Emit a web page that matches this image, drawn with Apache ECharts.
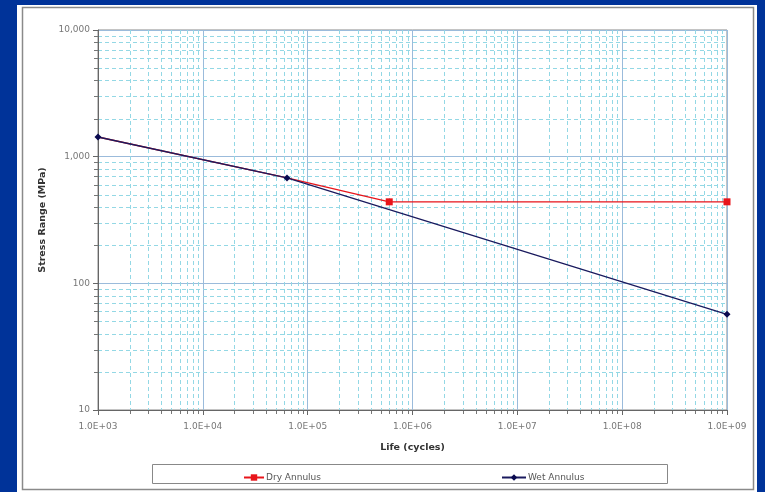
<!DOCTYPE html>
<html><head><meta charset="utf-8">
<script src="https://cdn.jsdelivr.net/npm/echarts@6/dist/echarts.min.js"></script>
<style>html,body{margin:0;padding:0;background:#003399;}#c{width:765px;height:492px;}</style>
</head><body><div id="c"></div>
<script>
// Data
const dryLife = [1000, 63500, 600000, 1e9];
const dryStress = [1430, 679, 440, 440];
const wetLife = [1000, 63500, 1e9];
const wetStress = [1430, 679, 57];
const xTickLabels = ['1.0E+03','1.0E+04','1.0E+05','1.0E+06','1.0E+07','1.0E+08','1.0E+09'];
const yTickLabels = {10:'10',100:'100',1000:'1,000',10000:'10,000'};

const xMin = 1e3, xMax = 1e9, yMin = 10, yMax = 1e4;

// minor gridline positions (2..9 within each decade)
const gridData = [];
for (let e = 3; e < 9; e++) for (let m = 2; m <= 9; m++) gridData.push([m * Math.pow(10, e), yMin, 0]);
for (let e = 1; e < 4; e++) for (let m = 2; m <= 9; m++) gridData.push([xMin, m * Math.pow(10, e), 1]);

const chart = echarts.init(document.getElementById('c'), null, {renderer: 'canvas'});
const font = '"DejaVu Sans", Verdana, sans-serif';

function gridRender(params, api) {
  const k = api.value(2);
  const dash = {stroke: '#93d8e5', lineWidth: 1, lineDash: [4, 3]};
  if (k === 0) {
    const pb = api.coord([api.value(0), yMin]);
    const pt = api.coord([api.value(0), yMax]);
    const x = Math.round(pb[0]) + 0.5;
    return {type: 'group', children: [
      {type: 'line', shape: {x1: x, y1: pt[1], x2: x, y2: pb[1]}, style: dash},
      {type: 'line', shape: {x1: x, y1: pb[1], x2: x, y2: pb[1] + 4}, style: {stroke: '#777', lineWidth: 1}}
    ]};
  } else {
    const pl = api.coord([xMin, api.value(1)]);
    const pr = api.coord([xMax, api.value(1)]);
    const y = Math.round(pl[1]) + 0.5;
    return {type: 'group', children: [
      {type: 'line', shape: {x1: pl[0], y1: y, x2: pr[0], y2: y}, style: dash},
      {type: 'line', shape: {x1: pl[0] - 4, y1: y, x2: pl[0], y2: y}, style: {stroke: '#777', lineWidth: 1}}
    ]};
  }
}

const option = {
  backgroundColor: '#003399',
  animation: false,
  graphic: [
    {type: 'rect', shape: {x: 17, y: 5, width: 740, height: 487}, style: {fill: '#ffffff'}, z: -10},
    {type: 'rect', shape: {x: 22.5, y: 7.5, width: 731, height: 482}, style: {fill: 'none', stroke: '#8a8a8a', lineWidth: 1.5}, z: -9},
    {type: 'rect', shape: {x: 152.5, y: 464.5, width: 515, height: 19}, style: {fill: '#fff', stroke: '#888', lineWidth: 1}, z: -8}
  ],
  grid: {left: 98, top: 30, right: 38, bottom: 82, show: true, borderColor: '#888', borderWidth: 1, backgroundColor: 'transparent'},
  xAxis: {
    type: 'log', logBase: 10, min: xMin, max: xMax, interval: 1,
    name: 'Life (cycles)', nameLocation: 'middle', nameGap: 33,
    nameTextStyle: {fontFamily: font, fontSize: 9.5, fontWeight: 'bold', color: '#333'},
    axisLine: {lineStyle: {color: '#666'}},
    axisTick: {show: true, length: 5, lineStyle: {color: '#666'}},
    axisLabel: {fontFamily: font, fontSize: 9, color: '#777', margin: 12,
      formatter: v => xTickLabels[Math.round(Math.log10(v)) - 3]},
    splitLine: {show: true, lineStyle: {color: '#9bbbdb', width: 1}}
  },
  yAxis: {
    type: 'log', logBase: 10, min: yMin, max: yMax, interval: 1,
    name: 'Stress Range (MPa)', nameLocation: 'middle', nameGap: 50, nameRotate: 90,
    nameTextStyle: {fontFamily: font, fontSize: 9.5, fontWeight: 'bold', color: '#333'},
    axisLine: {show: true, lineStyle: {color: '#666'}},
    axisTick: {show: true, length: 5, lineStyle: {color: '#666'}},
    axisLabel: {fontFamily: font, fontSize: 9, color: '#777', margin: 8,
      formatter: v => yTickLabels[Math.round(v)]},
    splitLine: {show: true, lineStyle: {color: '#9bbbdb', width: 1}}
  },
  legend: [
    {data: ['Dry Annulus'], left: 238, top: 468, itemWidth: 20, itemHeight: 8, itemGap: 4,
      textStyle: {fontFamily: font, fontSize: 9, color: '#555', padding: [0, 0, 0, -3]}},
    {data: ['Wet Annulus'], left: 496, top: 468, itemWidth: 24, itemHeight: 8, itemGap: 4,
      textStyle: {fontFamily: font, fontSize: 9, color: '#555', padding: [0, 0, 0, -3]}}
  ],
  series: [
    {type: 'custom', name: 'grid', data: gridData, renderItem: gridRender, clip: false, silent: true, z: 0,
      encode: {x: 0, y: 1}},
    {type: 'line', name: 'Dry Annulus',
      data: dryLife.map((x, i) => (i < 2 ? {value: [x, dryStress[i]], symbol: 'none'} : [x, dryStress[i]])),
      symbol: 'rect', symbolSize: 7, showAllSymbol: true,
      lineStyle: {color: '#e8151b', width: 1.3}, itemStyle: {color: '#e8151b'}, z: 3},
    {type: 'line', name: 'Wet Annulus', data: wetLife.map((x, i) => [x, wetStress[i]]),
      symbol: 'diamond', symbolSize: 7, showAllSymbol: true,
      lineStyle: {color: '#1a1a5e', width: 1.3}, itemStyle: {color: '#0a0a50'}, z: 4}
  ]
};
chart.setOption(option);
</script></body></html>
